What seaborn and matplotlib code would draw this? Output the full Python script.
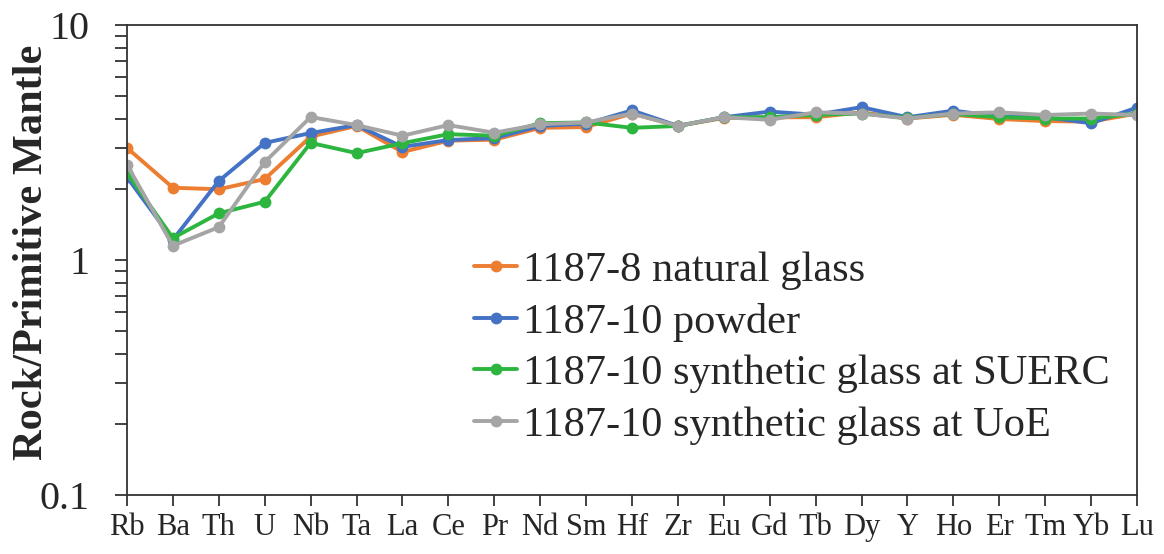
import matplotlib
matplotlib.use("Agg")
import matplotlib.pyplot as plt
import seaborn as sns
import pandas as pd
import numpy as np
from matplotlib.ticker import LogLocator, NullFormatter, FixedLocator

elements = ["Rb", "Ba", "Th", "U", "Nb", "Ta", "La", "Ce", "Pr", "Nd", "Sm", "Hf",
            "Zr", "Eu", "Gd", "Tb", "Dy", "Y", "Ho", "Er", "Tm", "Yb", "Lu"]

natural_glass_1187_8 = [3.0, 2.03, 2.0, 2.21, 3.35, 3.72, 2.88, 3.22, 3.25, 3.65, 3.68, 4.2,
                        3.72, 4.02, 4.05, 4.05, 4.25, 4.0, 4.15, 3.98, 3.9, 3.88, 4.2]
powder_1187_10 = [2.25, 1.22, 2.17, 3.15, 3.47, 3.75, 3.03, 3.24, 3.3, 3.72, 3.8, 4.33,
                  3.72, 4.05, 4.28, 4.15, 4.47, 4.05, 4.32, 4.08, 4.05, 3.82, 4.45]
suerc_1187_10 = [2.35, 1.24, 1.58, 1.77, 3.15, 2.85, 3.14, 3.43, 3.38, 3.82, 3.85, 3.65,
                 3.72, 4.05, 4.05, 4.15, 4.2, 4.02, 4.18, 4.05, 4.0, 4.0, 4.2]
uoe_1187_10 = [2.54, 1.15, 1.38, 2.61, 4.06, 3.75, 3.38, 3.75, 3.48, 3.78, 3.85, 4.2,
               3.72, 4.05, 3.95, 4.25, 4.2, 4.0, 4.2, 4.25, 4.14, 4.2, 4.14]

series_names = ["1187-8 natural glass", "1187-10 powder",
                "1187-10 synthetic glass at SUERC", "1187-10 synthetic glass at UoE"]
series_values = [natural_glass_1187_8, powder_1187_10, suerc_1187_10, uoe_1187_10]
colors = ["#ED7D31", "#4472C4", "#2DB63F", "#A5A5A5"]

rows = []
for name, vals in zip(series_names, series_values):
    for i, (el, v) in enumerate(zip(elements, vals)):
        rows.append({"pos": i, "element": el, "value": v, "series": name})
df = pd.DataFrame(rows)

sns.set_theme(style="ticks")
plt.rcParams["font.family"] = ["Liberation Serif", "DejaVu Serif"]

fig = plt.figure(figsize=(11.64, 5.54), dpi=100)
ax = fig.add_axes([127 / 1164, 1 - 495 / 554, (1137 - 127) / 1164, (495 - 25) / 554])

sns.lineplot(data=df, x="pos", y="value", hue="series", hue_order=series_names,
             palette=colors, marker="o", markersize=8.5, markeredgewidth=0,
             linewidth=2.8, sort=False, ax=ax, legend=True)

ax.set_yscale("log")
ax.set_ylim(0.1, 10)
ax.set_xlim(0, len(elements) - 1)
ax.xaxis.set_major_locator(FixedLocator(range(len(elements))))
ax.set_xticklabels(elements, fontsize=22)
ax.set_yticks([0.1, 1, 10])
ax.set_yticklabels(["0.1", "1", "10"], fontsize=29)
ax.yaxis.set_minor_locator(LogLocator(base=10, subs=np.arange(2, 10) * 1.0))
ax.yaxis.set_minor_formatter(NullFormatter())
ax.tick_params(axis="x", which="major", direction="out", length=8, width=1.3, color="#333333", pad=5)
ax.tick_params(axis="y", which="both", direction="out", length=9, width=1.3, color="#333333")
ax.tick_params(axis="y", which="major", pad=18)
for s in ax.spines.values():
    s.set_linewidth(1.3)
    s.set_color("#333333")

ax.set_xlabel("")
ax.set_ylabel("Rock/Primitive Mantle", fontsize=30.5, fontweight="bold")
ax.yaxis.set_label_coords(-0.075, 0.517)

leg = ax.legend(loc="upper left", bbox_to_anchor=(0.344, 0.518), frameon=False,
                fontsize=30.5, handlelength=1.0, handletextpad=0.15, labelspacing=0.3,
                borderaxespad=0, borderpad=0)

fig.savefig("out.png", dpi=100)
